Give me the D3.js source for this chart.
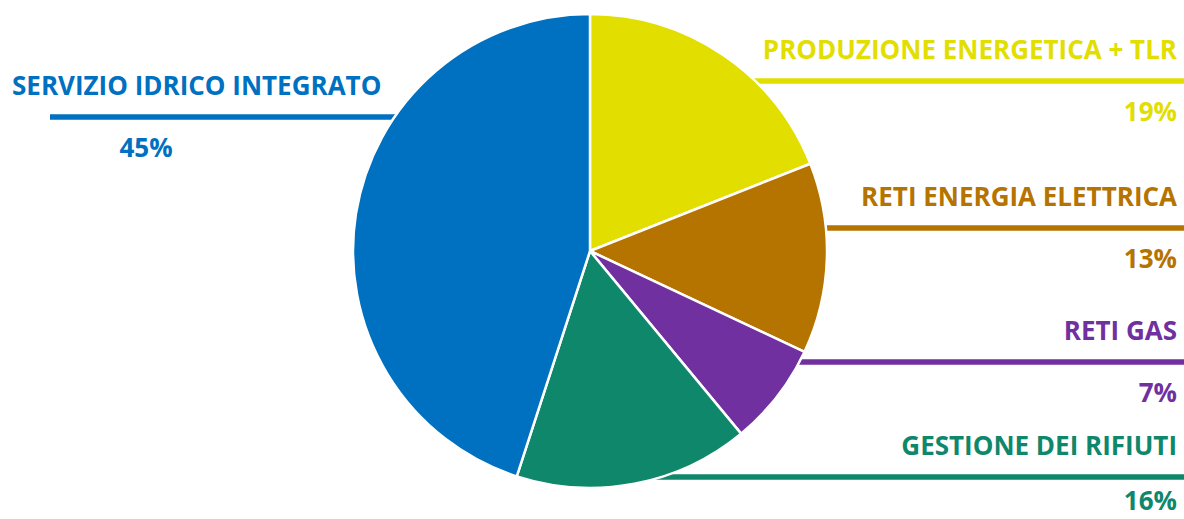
<!DOCTYPE html>
<html>
<head>
<meta charset="utf-8">
<script src="https://cdn.jsdelivr.net/npm/d3@7"></script>
<style>
  body { margin: 0; background: #fff; }
  svg { display: block; }
  .lbl { font-family: "Open Sans", sans-serif; font-weight: 700; font-size: 26px; }
</style>
</head>
<body>
<svg id="chart"></svg>
<script>
// data, clockwise from 12 o'clock
const categories = ["PRODUZIONE ENERGETICA + TLR", "RETI ENERGIA ELETTRICA", "RETI GAS", "GESTIONE DEI RIFIUTI", "SERVIZIO IDRICO INTEGRATO"];
const values = [19, 13, 7, 16, 45];
const colors = ["#e2de00", "#b57300", "#7030a0", "#0f876b", "#0070c0"];

// label layout (leader line y for each slice, side)
const lineY = [81, 228, 362, 477, 117];
const side = ["right", "right", "right", "right", "left"];

const width = 1184, height = 519;
const cx = 590, cy = 251, radius = 237;

const svg = d3.select("#chart")
  .attr("width", width)
  .attr("height", height);

const data = categories.map((c, i) => ({ name: c, value: values[i], color: colors[i], y: lineY[i], side: side[i] }));

// leader lines go behind the pie
const lines = svg.append("g").attr("class", "lines");
lines.selectAll("line")
  .data(data)
  .join("line")
  .attr("x1", d => d.side === "right" ? cx : 50)
  .attr("x2", d => d.side === "right" ? width : cx)
  .attr("y1", d => d.y)
  .attr("y2", d => d.y)
  .attr("stroke", d => d.color)
  .attr("stroke-width", 5.5);

const pie = d3.pie().sort(null).value(d => d.value);
const arc = d3.arc().innerRadius(0).outerRadius(radius);

svg.append("g")
  .attr("transform", `translate(${cx},${cy})`)
  .selectAll("path")
  .data(pie(data))
  .join("path")
  .attr("d", arc)
  .attr("fill", d => d.data.color)
  .attr("stroke", "#fff")
  .attr("stroke-width", 2.5)
  .attr("stroke-linejoin", "round");

// labels
const labels = svg.append("g").attr("class", "labels");

data.forEach(d => {
  const right = d.side === "right";
  labels.append("text")
    .attr("class", "lbl")
    .attr("fill", d.color)
    .attr("x", right ? 1177 : 12)
    .attr("y", d.y - 22)
    .attr("text-anchor", right ? "end" : "start")
    .text(d.name);
  labels.append("text")
    .attr("class", "lbl")
    .attr("fill", d.color)
    .attr("x", right ? 1177 : 146)
    .attr("y", Math.min(d.y + 40, height - 9)) // keep the bottom one inside the frame
    .attr("text-anchor", right ? "end" : "middle")
    .text(d.value + "%");
});
</script>
</body>
</html>
